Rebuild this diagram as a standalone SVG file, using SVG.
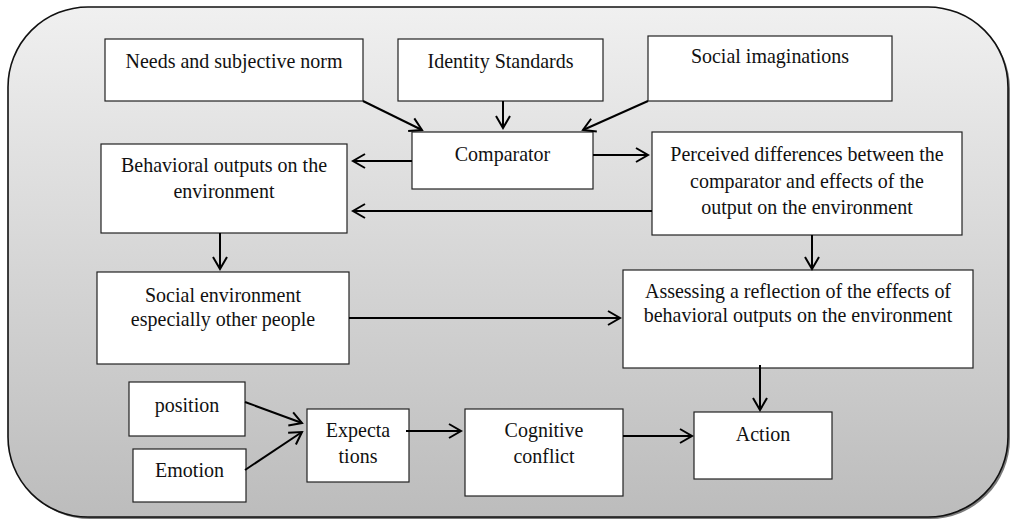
<svg xmlns="http://www.w3.org/2000/svg" width="1010" height="520" viewBox="0 0 1010 520">
<style>
.box{fill:#fff;stroke:#222;stroke-width:1.2}
.t{font-family:'Liberation Serif','Times New Roman',serif;font-size:20px;fill:#111;text-anchor:middle}
.c{fill:none;stroke:#000;stroke-width:2;marker-end:url(#ah)}
</style>
<defs>
<linearGradient id="bg" x1="0" y1="0" x2="0" y2="1">
<stop offset="0" stop-color="#f0f0f0"/>
<stop offset="1" stop-color="#bcbcbc"/>
</linearGradient>
<marker id="ah" viewBox="-14 -9 16 18" markerWidth="16" markerHeight="18" refX="0" refY="0" orient="auto" markerUnits="userSpaceOnUse">
<path d="M-12,-7 L0,0 L-12,7" fill="none" stroke="#000" stroke-width="2"/>
</marker>
</defs>
<g id="frame">
<rect x="10" y="9" width="1000" height="510" rx="80" ry="80" fill="#7a7a7a"/>
<rect x="8" y="7" width="1000" height="510" rx="80" ry="80" fill="url(#bg)" stroke="#111" stroke-width="1.6"/>
</g>
<g id="n-needs"><rect class="box" x="105" y="39" width="258" height="62"/><text class="t" transform="translate(234,68) scale(1,1.1)">Needs and subjective norm</text></g>
<g id="n-identity"><rect class="box" x="398" y="39" width="205" height="62"/><text class="t" transform="translate(500.5,68) scale(1,1.1)">Identity Standards</text></g>
<g id="n-social-im"><rect class="box" x="648" y="36" width="244" height="65"/><text class="t" transform="translate(770,63) scale(1,1.1)">Social imaginations</text></g>
<g id="n-comparator"><rect class="box" x="412" y="132" width="181" height="57"/><text class="t" transform="translate(502.5,161) scale(1,1.1)">Comparator</text></g>
<g id="n-behavioral"><rect class="box" x="101" y="144" width="246" height="89"/><text class="t" transform="translate(224,172) scale(1,1.1)">Behavioral outputs on the</text><text class="t" transform="translate(224,198) scale(1,1.1)">environment</text></g>
<g id="n-perceived"><rect class="box" x="652" y="132" width="310" height="103"/><text class="t" transform="translate(807,161) scale(1,1.1)">Perceived differences between the</text><text class="t" transform="translate(807,188) scale(1,1.1)">comparator and effects of the</text><text class="t" transform="translate(807,214) scale(1,1.1)">output on the environment</text></g>
<g id="n-social-env"><rect class="box" x="97" y="272" width="252" height="92"/><text class="t" transform="translate(223,302) scale(1,1.1)">Social environment</text><text class="t" transform="translate(223,326) scale(1,1.1)">especially other people</text></g>
<g id="n-assessing"><rect class="box" x="623" y="270" width="350" height="98"/><text class="t" transform="translate(798,298) scale(1,1.1)">Assessing a reflection of the effects of</text><text class="t" transform="translate(798,322) scale(1,1.1)">behavioral outputs on the environment</text></g>
<g id="n-position"><rect class="box" x="129" y="382" width="116" height="54"/><text class="t" transform="translate(187,412) scale(1,1.1)">position</text></g>
<g id="n-emotion"><rect class="box" x="133" y="449" width="113" height="53"/><text class="t" transform="translate(189.5,477) scale(1,1.1)">Emotion</text></g>
<g id="n-expectations"><rect class="box" x="307" y="409" width="102" height="73"/><text class="t" transform="translate(358,437) scale(1,1.1)">Expecta</text><text class="t" transform="translate(358,463) scale(1,1.1)">tions</text></g>
<g id="n-cognitive"><rect class="box" x="465" y="409" width="158" height="87"/><text class="t" transform="translate(544,437) scale(1,1.1)">Cognitive</text><text class="t" transform="translate(544,463) scale(1,1.1)">conflict</text></g>
<g id="n-action"><rect class="box" x="694" y="412" width="138" height="67"/><text class="t" transform="translate(763,441) scale(1,1.1)">Action</text></g>
<g id="connectors">
<line class="c" x1="363" y1="101" x2="422" y2="130"/>
<line class="c" x1="503" y1="101" x2="503" y2="128"/>
<line class="c" x1="648" y1="101" x2="583" y2="130"/>
<line class="c" x1="412" y1="161" x2="353" y2="161"/>
<line class="c" x1="593" y1="155" x2="648" y2="155"/>
<line class="c" x1="652" y1="211" x2="353" y2="211"/>
<line class="c" x1="220" y1="233" x2="220" y2="269"/>
<line class="c" x1="812" y1="235" x2="812" y2="269"/>
<line class="c" x1="349" y1="318" x2="620" y2="318"/>
<line class="c" x1="760" y1="365" x2="760" y2="410"/>
<line class="c" x1="245" y1="402" x2="302" y2="423"/>
<line class="c" x1="245" y1="470" x2="302" y2="432"/>
<line class="c" x1="406" y1="431" x2="461" y2="431"/>
<line class="c" x1="623" y1="436" x2="692" y2="436"/>
</g>
</svg>
